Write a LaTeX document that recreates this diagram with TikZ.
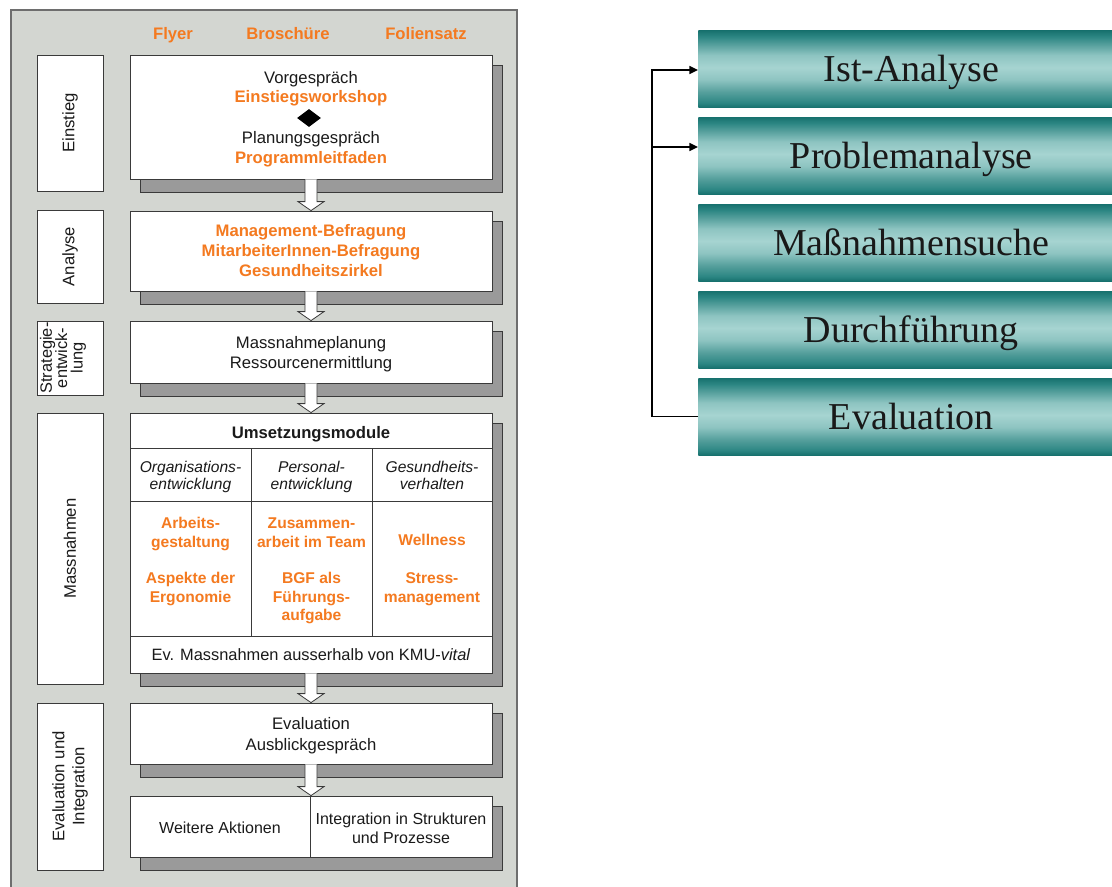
\documentclass[tikz,border=0pt]{standalone}
\usepackage{fontspec}
\setmainfont{Liberation Sans}
\newfontfamily\tnr{Liberation Serif}
\usetikzlibrary{calc,fit,arrows.meta,shapes.geometric}
\definecolor{panelgray}{HTML}{D3D6D1}
\definecolor{panelborder}{HTML}{6E6E6E}
\definecolor{shadowgray}{HTML}{9A9A9A}
\definecolor{edgegray}{HTML}{3A3A3A}
\definecolor{kmuorange}{HTML}{F47A20}
\definecolor{textblack}{HTML}{1A1A1A}
\definecolor{tealD}{HTML}{17716E}
\definecolor{tealDM}{HTML}{2C8683}
\definecolor{tealM}{HTML}{559F9C}
\definecolor{tealL}{HTML}{8DC4C1}
\definecolor{tealLL}{HTML}{A6D4D1}
\pgfdeclareverticalshading{tealbar}{100bp}{color(0bp)=(tealD); color(25bp)=(tealD); color(28bp)=(tealDM); color(35bp)=(tealM); color(43bp)=(tealL); color(51bp)=(tealLL); color(59bp)=(tealL); color(66bp)=(tealM); color(71bp)=(tealDM); color(75bp)=(tealD); color(100bp)=(tealD)}
\tikzset{
  panel/.style={fill=panelgray, draw=panelborder, line width=2.2pt},
  shadowbox/.style={fill=shadowgray, draw=edgegray, line width=0.6pt},
  mainbox/.style={fill=white, draw=edgegray, line width=0.6pt, inner sep=0pt},
  lblbox/.style={fill=white, draw=edgegray, line width=0.6pt, inner sep=0pt},
  gridline/.style={draw=edgegray, line width=0.6pt},
  txt/.style={font=\fontsize{12.5}{15}\selectfont, text=textblack, inner sep=0pt, anchor=base},
  otxt/.style={txt, font=\fontsize{12.5}{15}\selectfont\bfseries, text=kmuorange},
  ttxt/.style={txt, font=\fontsize{11.7}{14}\selectfont},
  tbtxt/.style={txt, font=\fontsize{11.7}{14}\selectfont\bfseries, text=kmuorange},
  titxt/.style={txt, font=\fontsize{11.7}{14}\selectfont\itshape},
  vlabel/.style={font=\fontsize{12.5}{15}\selectfont, text=textblack, inner sep=0pt, rotate=90, align=center},
  blockarrow/.style={fill=white, draw=edgegray, line width=0.6pt},
  tealbox/.style={shading=tealbar, draw=none, inner sep=0pt, minimum width=319.5pt, minimum height=57.75pt, anchor=west,
    font=\tnr\fontsize{28.5}{30}\selectfont, text=black!90, text height=19pt, text depth=0pt},
  feedback/.style={draw=black, line width=1.1pt, -{Triangle[length=6.5pt,width=6pt]}},
}
\newcommand\stagebox[5]{%
  \draw[shadowbox] (#2+10,#3+10) rectangle (#4+10,#5+13);
  \node[mainbox, fit={(#2,#3)(#4,#5)}] (#1) {};}
\newcommand\blockarr[2]{%
  \draw[blockarrow] ($(#1.south)+(-6,0)$) -- ($(#2.north)+(-6,-9)$) -- ($(#2.north)+(-13,-9)$) -- (#2.north)
    -- ($(#2.north)+(13,-9)$) -- ($(#2.north)+(6,-9)$) -- ($(#1.south)+(6,0)$);}
\begin{document}
\begin{tikzpicture}[x=0.75pt,y=-0.75pt]
\useasboundingbox (0,0) rectangle (1112,886);
\clip (0,0) rectangle (1112,886);
\fill[white] (0,0) rectangle (1112,886);

% ---------------- left panel ----------------
\draw[panel] (11,10) rectangle (517,900);

\node[otxt, anchor=base] (hflyer) at (173,39) {Flyer};
\node[otxt, anchor=base] (hbro) at (288,39) {Broschüre};
\node[otxt, anchor=base] (hfol) at (426,39) {Foliensatz};

% label boxes
\node[lblbox, fit={(37,55)(103,191)}] (lein) {};
\node[vlabel] (tein) at (lein.center) {Einstieg};
\node[lblbox, fit={(37,210)(103,303)}] (lana) {};
\node[vlabel] (tana) at (lana.center) {Analyse};
\node[lblbox, fit={(37,321)(103,395)}] (lstr) {};
\node[vlabel, font=\fontsize{12.3}{11.5}\selectfont] (tstr) at ($(lstr.center)+(-7,0)$) {Strategie-\\entwick-\\lung};
\node[lblbox, fit={(37,413)(103,684)}] (lmas) {};
\node[vlabel] (tmas) at (lmas.center) {Massnahmen};
\node[lblbox, fit={(37,703)(103,870)}] (leva) {};
\node[vlabel] (teva) at (leva.center) {Evaluation und\\Integration};

% stage boxes
\stagebox{ein}{130}{55}{492}{179}
\stagebox{ana}{130}{211}{492}{291}
\stagebox{str}{130}{321}{492}{383}
\stagebox{mas}{130}{413}{492}{673}
\stagebox{eva}{130}{703}{492}{764}
\stagebox{fin}{130}{796}{492}{857}

% arrows
\blockarr{ein}{ana}
\blockarr{ana}{str}
\blockarr{str}{mas}
\blockarr{mas}{eva}
\blockarr{eva}{fin}

% Einstieg content
\node[txt] (vorg) at (311,83) {Vorgespräch};
\node[otxt] (ews) at (311,102) {Einstiegsworkshop};
\node[diamond, fill=black, inner sep=0pt, minimum width=18pt, minimum height=13.5pt] (dia) at (309,118) {};
\node[txt] (plan) at (311,143) {Planungsgespräch};
\node[otxt] (plf) at (311,163) {Programmleitfaden};

% Analyse content
\node[otxt] (mbef) at (311,236) {Management-Befragung};
\node[otxt] (mabef) at (311,256) {MitarbeiterInnen-Befragung};
\node[otxt] (gz) at (311,276) {Gesundheitszirkel};

% Strategie content
\node[txt] (mpl) at (311,348) {Massnahmeplanung};
\node[txt] (rem) at (311,368) {Ressourcenermittlung};

% Massnahmen table
\draw[gridline] (130,448) -- (492,448);
\draw[gridline] (130,501) -- (492,501);
\draw[gridline] (130,636) -- (492,636);
\draw[gridline] (251,448) -- (251,636);
\draw[gridline] (372,448) -- (372,636);
\node[txt, font=\fontsize{12.5}{15}\selectfont\bfseries] (umod) at (311,438) {Umsetzungsmodule};
\node[titxt] (c1a) at (190.5,472) {Organisations-};
\node[titxt] (c1b) at (190.5,489) {entwicklung};
\node[titxt] (c2a) at (311.5,472) {Personal-};
\node[titxt] (c2b) at (311.5,489) {entwicklung};
\node[titxt] (c3a) at (432,472) {Gesundheits-};
\node[titxt] (c3b) at (432,489) {verhalten};
\node[tbtxt] (arb1) at (190.5,528) {Arbeits-};
\node[tbtxt] (arb2) at (190.5,547) {gestaltung};
\node[tbtxt] (asp1) at (190.5,583) {Aspekte der};
\node[tbtxt] (asp2) at (190.5,602) {Ergonomie};
\node[tbtxt] (zus1) at (311.5,528) {Zusammen-};
\node[tbtxt] (zus2) at (311.5,547) {arbeit im Team};
\node[tbtxt] (bgf1) at (311.5,583) {BGF als};
\node[tbtxt] (bgf2) at (311.5,602) {Führungs-};
\node[tbtxt] (bgf3) at (311.5,620) {aufgabe};
\node[tbtxt] (well) at (432,545) {Wellness};
\node[tbtxt] (str1) at (432,583) {Stress-};
\node[tbtxt] (str2) at (432,602) {management};
\node[txt, font=\fontsize{12.3}{15}\selectfont] (ev) at (311,660) {Ev. Massnahmen ausserhalb von KMU-\textit{vital}};

% Evaluation content
\node[txt] (evl) at (311,729) {Evaluation};
\node[txt] (abl) at (311,750) {Ausblickgespräch};

% final box
\draw[gridline] (310,796) -- (310,857);
\node[txt, font=\fontsize{12}{15}\selectfont] (weit) at (220,833) {Weitere Aktionen};
\node[txt, font=\fontsize{12}{15}\selectfont] (int1) at (401,824) {Integration in Strukturen};
\node[txt, font=\fontsize{12}{15}\selectfont] (int2) at (401,843) {und Prozesse};

% ---------------- right panel ----------------
\node[tealbox] (ist) at (698,69) {Ist-Analyse};
\node[tealbox] (prob) at (698,155.5) {Problemanalyse};
\node[tealbox] (mass) at (698,242.5) {Maßnahmensuche};
\node[tealbox] (durch) at (698,329.5) {Durchführung};
\node[tealbox] (evalr) at (698,416.5) {Evaluation};

\coordinate (jtop) at ($(ist.west)+(-46,1)$);
\coordinate (jmid) at ($(prob.west)+(-46,-8.5)$);
\draw[feedback] (evalr.west) -| (jtop) -- ($(ist.west)+(0,1)$);
\draw[feedback] (jmid) -- ($(prob.west)+(0,-8.5)$);
\end{tikzpicture}
\end{document}
